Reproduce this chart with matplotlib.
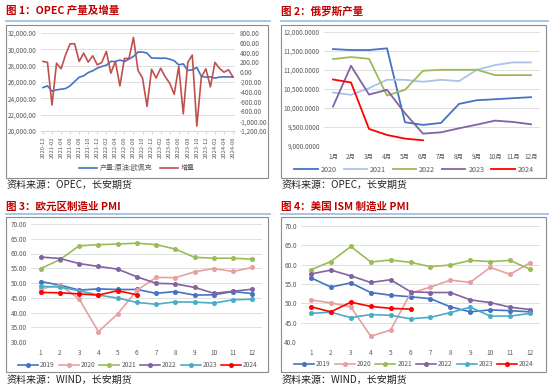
import matplotlib
matplotlib.use("Agg")
import matplotlib.pyplot as plt
from matplotlib.patches import Rectangle
from matplotlib.lines import Line2D
from matplotlib.ticker import FuncFormatter
import pandas as pd

plt.rcParams['font.family'] = ['Noto Sans CJK SC', 'DejaVu Sans']
plt.rcParams['axes.unicode_minus'] = False

W, H = 550, 392

# ---- data ----
opec_months = [p.strftime('%Y-%m') for p in pd.period_range('2020-12', '2024-06', freq='M')]
opec_prod = [25320, 25530, 24870, 25040, 25120, 25200, 25530, 26060, 26590, 26750,
             27160, 27370, 27700, 27900, 28060, 28520, 28500, 28700, 28500, 28800,
             29130, 29670, 29670, 29540, 28930, 28930, 28900, 28930, 28800, 28600,
             28100, 28220, 27410, 27500, 27780, 26680, 26600, 26630, 26470, 26600,
             26630, 26630, 26600]
opec_delta = [220, 200, -670, 185, 70, 357, 580, 580, 220, 390,
              206, 335, 150, 200, 425, -20, 220, -280, 280, 280,
              710, 35, -120, -700, 60, -120, 80, -90, -225, -450,
              120, -850, 200, 350, -1100, -100, 70, -300, 200, 80,
              0, 50, -100]

month_cn = ['1月', '2月', '3月', '4月', '5月', '6月', '7月', '8月', '9月', '10月', '11月', '12月']
russia = {
    '2020': [11551, 11525, 11525, 11570, 9625, 9555, 9607, 10108, 10205, 10230, 10258, 10285],
    '2021': [10408, 10346, 10522, 10742, 10742, 10690, 10742, 10707, 11006, 11130, 11200, 11200],
    '2022': [11288, 11340, 11296, 10329, 10478, 10980, 11006, 11006, 11006, 10865, 10865, 10865],
    '2023': [10038, 11110, 10354, 10478, 9862, 9325, 9360, 9466, 9563, 9668, 9633, 9571],
    '2024': [10750, 10672, 9450, 9290, 9194, 9150],
}
russia_colors = ['#4472C4', '#A9C4E8', '#9BBB59', '#8064A2', '#FF0000']

pmi_months = list(range(1, 13))
euro_pmi = {
    '2019': [50.5, 49.3, 47.6, 48.0, 47.8, 47.8, 46.5, 47.1, 45.9, 46.0, 47.1, 46.4],
    '2020': [48.0, 49.3, 44.6, 33.5, 39.5, 47.5, 51.9, 51.8, 53.8, 54.9, 53.9, 55.3],
    '2021': [54.9, 57.9, 62.6, 63.0, 63.2, 63.5, 63.0, 61.5, 58.7, 58.4, 58.4, 58.1],
    '2022': [58.8, 58.3, 56.6, 55.6, 54.7, 52.1, 49.9, 49.7, 48.5, 46.5, 47.2, 47.9],
    '2023': [48.9, 48.6, 47.4, 45.9, 44.9, 43.4, 42.8, 43.6, 43.5, 43.2, 44.3, 44.5],
    '2024': [46.8, 46.7, 46.3, 45.9, 47.4, 46.0],
}
us_pmi = {
    '2019': [56.6, 54.2, 55.3, 52.8, 52.1, 51.7, 51.2, 49.1, 47.8, 48.3, 48.1, 47.8],
    '2020': [50.9, 50.1, 49.1, 41.5, 43.1, 52.6, 54.2, 56.0, 55.4, 59.3, 57.5, 60.5],
    '2021': [58.7, 60.8, 64.7, 60.7, 61.2, 60.6, 59.5, 59.9, 61.1, 60.8, 61.1, 58.8],
    '2022': [57.6, 58.6, 57.1, 55.4, 56.1, 53.0, 52.8, 52.8, 50.9, 50.2, 49.0, 48.4],
    '2023': [47.4, 47.7, 46.3, 47.1, 46.9, 46.0, 46.4, 47.6, 49.0, 46.7, 46.7, 47.4],
    '2024': [49.1, 47.8, 50.3, 49.2, 48.7, 48.5],
}
pmi_colors = ['#4472C4', '#E6A0A0', '#9BBB59', '#8064A2', '#4BACC6', '#FF0000']

TICK_C = '#595959'
GRID_C = '#D9D9D9'
TS = 4.6

fig = plt.figure(figsize=(W / 100, H / 100), dpi=100)


def rect(x0, y0, x1, y1):
    return [x0 / W, 1 - y1 / H, (x1 - x0) / W, (y1 - y0) / H]


def frame(x0, y0, x1, y1, title, title_y, line_y, src, src_y):
    fig.text(x0 / W, 1 - title_y / H, title, color='#C00000', fontsize=7.6,
             fontweight='bold', va='center', ha='left')
    fig.add_artist(Line2D([x0 / W, (x1 + 2) / W], [1 - line_y / H] * 2,
                          color='#9DC3E6', lw=1.3))
    fig.add_artist(Rectangle((x0 / W, 1 - y1 / H), (x1 - x0) / W, (y1 - y0) / H,
                             fill=False, ec='#8C8C8C', lw=0.8))
    fig.text((x0 + 1) / W, 1 - src_y / H, src, color='#222222', fontsize=7.2,
             va='center', ha='left')


def style(ax):
    for s in ax.spines.values():
        s.set_visible(False)
    ax.grid(axis='y', color=GRID_C, lw=0.6)
    ax.set_axisbelow(True)
    ax.tick_params(length=0, labelsize=TS, labelcolor=TICK_C, pad=3)


# ---- panel 1 ----
frame(6, 25, 268, 178, '图 1：OPEC 产量及增量', 11, 21, '资料来源：OPEC，长安期货', 185)
ax1 = fig.add_axes(rect(40.7, 33, 235.3, 131))
style(ax1)
x = list(range(len(opec_months)))
ax1.plot(x, opec_prod, color='#4472C4', lw=1.2, label='产量:原油:欧佩克')
ax1.set_ylim(20000, 32000)
ax1.set_yticks(range(20000, 32001, 2000))
ax1.yaxis.set_major_formatter(FuncFormatter(lambda v, p: f'{v:,.2f}'))
ax1.set_xlim(-0.5, len(x) - 0.5)
ax1.set_xticks(x[::2])
ax1.set_xticklabels(opec_months[::2], rotation=90, fontsize=TS - 0.4)
ax1.spines['bottom'].set_visible(True)
ax1.spines['bottom'].set_color(GRID_C)
ax1.tick_params(axis='x', length=2, color=GRID_C, pad=2)
ax1b = ax1.twinx()
style(ax1b)
ax1b.grid(False)
ax1b.plot(x, opec_delta, color='#C0504D', lw=1.2, label='增量')
ax1b.set_ylim(-1200, 800)
ax1b.set_yticks(range(-1200, 801, 200))
ax1b.yaxis.set_major_formatter(FuncFormatter(lambda v, p: f'{v:,.2f}'))
h1 = ax1.get_lines() + ax1b.get_lines()
fig.legend(h1, [l.get_label() for l in h1], loc='center', ncol=2, frameon=False,
           fontsize=5, bbox_to_anchor=(137 / W, 1 - 168 / H), handlelength=2.6,
           columnspacing=1.0, handletextpad=0.4, labelcolor=TICK_C)

# ---- panel 2 ----
frame(281, 25, 546, 178, '图 2：俄罗斯产量', 11, 21, '资料来源：OPEC，长安期货', 185)
ax2 = fig.add_axes(rect(324, 32, 540, 146))
style(ax2)
for (yr, vals), c in zip(russia.items(), russia_colors):
    ax2.plot(range(1, len(vals) + 1), vals, color=c, lw=1.3, label=yr)
ax2.set_ylim(9000, 12000)
ax2.set_yticks(range(9000, 12001, 500))
ax2.yaxis.set_major_formatter(FuncFormatter(lambda v, p: f'{v:,.4f}'))
ax2.set_xlim(0.5, 12.5)
ax2.set_xticks(range(1, 13))
ax2.set_xticklabels(month_cn)
ax2.tick_params(axis='x', pad=5)
fig.legend(*ax2.get_legend_handles_labels(), loc='center', ncol=5, frameon=False,
           fontsize=5.2, bbox_to_anchor=(414 / W, 1 - 170 / H), handlelength=3.2,
           columnspacing=1.0, handletextpad=0.4, labelcolor=TICK_C)


# ---- panels 3 & 4 ----
def pmi_panel(data, box, ylim, fmt, leg_xy):
    ax = fig.add_axes(rect(*box))
    style(ax)
    for (yr, vals), c in zip(data.items(), pmi_colors):
        ax.plot(pmi_months[:len(vals)], vals, color=c, lw=1.2, marker='o',
                ms=2.6, label=yr)
    ax.set_ylim(*ylim)
    ax.set_yticks(range(ylim[0], ylim[1] + 1, 5))
    ax.yaxis.set_major_formatter(FuncFormatter(lambda v, p: fmt.format(v)))
    ax.set_xlim(0.5, 12.5)
    ax.set_xticks(pmi_months)
    ax.tick_params(axis='x', pad=5)
    fig.legend(*ax.get_legend_handles_labels(), loc='center', ncol=6, frameon=False,
               fontsize=4.8, bbox_to_anchor=(leg_xy[0] / W, 1 - leg_xy[1] / H),
               handlelength=3, columnspacing=0.6, handletextpad=0.3,
               labelcolor=TICK_C)
    return ax


frame(6, 217, 268, 372, '图 3：欧元区制造业 PMI', 207, 214, '资料来源：WIND，长安期货', 380)
pmi_panel(euro_pmi, (31, 224, 262, 342), (30, 70), '{:.2f}', (138, 365))

frame(281, 217, 546, 372, '图 4：美国 ISM 制造业 PMI', 207, 214, '资料来源：WIND，长安期货', 380)
pmi_panel(us_pmi, (301, 226, 540, 342), (40, 70), '{:.1f}', (414, 364))

fig.savefig('out.png', dpi=100)
